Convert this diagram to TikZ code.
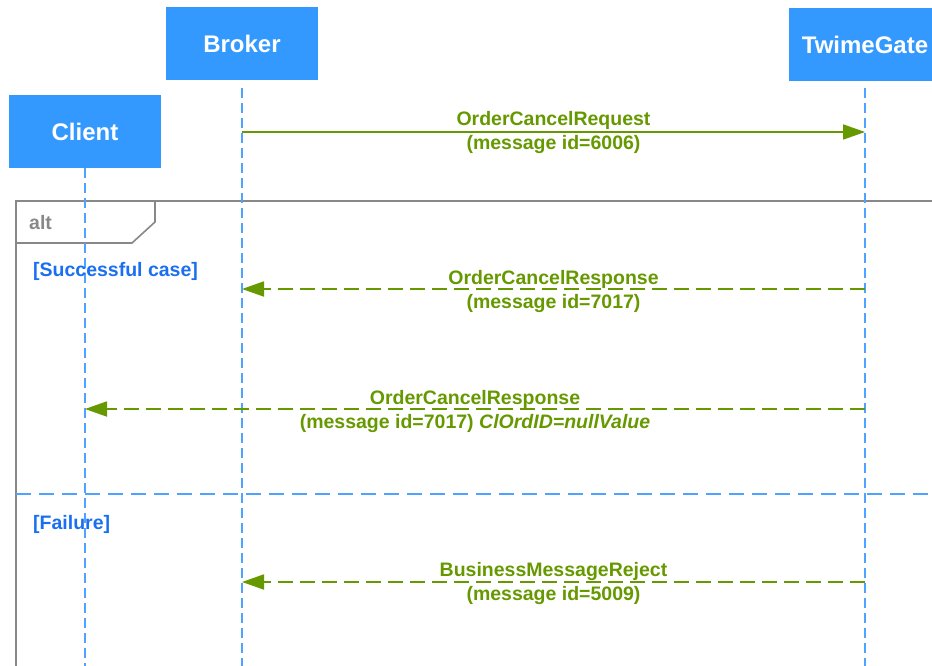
\documentclass[tikz,border=0pt]{standalone}
\usepackage{fontspec}
\setmainfont{Liberation Sans}
\usetikzlibrary{arrows.meta,calc}
\definecolor{boxblue}{HTML}{3399FF}
\definecolor{lifeblue}{HTML}{4DA3FF}
\definecolor{msggreen}{HTML}{669900}
\definecolor{guardblue}{HTML}{1A6FF0}
\definecolor{framegray}{HTML}{888888}
\begin{document}
\begin{tikzpicture}[x=1pt,y=-1pt,
  actor/.style={fill=boxblue, draw=none, minimum width=152pt, minimum height=73pt, inner sep=0pt,
    text=white, font=\fontsize{24}{28}\selectfont\bfseries},
  lifeline/.style={draw=lifeblue, line width=1.6pt, dash pattern=on 10pt off 5pt},
  msgsolid/.style={draw=msggreen, line width=1.8pt, -{Triangle[length=22pt,width=15pt]}},
  msgdash/.style={msgsolid, dash pattern=on 15pt off 7pt},
  msglabel/.style={text=msggreen, align=center, inner sep=0pt, font=\fontsize{19.5}{24}\selectfont\bfseries},
  guard/.style={text=guardblue, anchor=west, inner sep=0pt, font=\fontsize{19.5}{22}\selectfont\bfseries},
  framestyle/.style={draw=framegray, line width=1.6pt},
  separator/.style={draw=lifeblue, line width=1.8pt, dash pattern=on 15pt off 8pt}]
\useasboundingbox (0,0) rectangle (932,666);
\clip (0,0) rectangle (932,666);

% actors
\node[actor] (broker) at (242,43.5) {Broker};
\node[actor] (client) at (85,131.5) {Client};
\node[actor] (twime) at (865,44.5) {TwimeGate};

% lifeline ends
\coordinate (brokerTop) at (242,88);
\coordinate (twimeTop) at (865,88);
\coordinate (clientEnd) at (85,670);
\coordinate (brokerEnd) at (242,670);
\coordinate (twimeEnd) at (865,670);

% alt frame
\coordinate (frTR) at (940,201);
\coordinate (frTL) at (16,201);
\coordinate (frBL) at (16,670);
\draw[framestyle] (frTR) -- (frTL) -- (frBL);
\coordinate (tab1) at (16,243);
\coordinate (tab2) at (132,243);
\coordinate (tab3) at (155,222);
\coordinate (tab4) at (155,201);
\draw[framestyle] (tab1) -- (tab2) -- (tab3) -- (tab4);
\node[anchor=west, inner sep=0pt, text=framegray, font=\fontsize{19.5}{22}\selectfont\bfseries] (altlbl) at (29,223) {alt};

% separator
\coordinate (sepL) at (16,494);
\coordinate (sepR) at (940,494);
\draw[separator] (sepL) -- (sepR);

% lifelines
\draw[lifeline] (client.south) -- (clientEnd);
\draw[lifeline] (brokerTop) -- (brokerEnd);
\draw[lifeline] (twimeTop) -- (twimeEnd);

% guards
\node[guard] (g1) at (33,271) {[Successful case]};
\node[guard] (g2) at (33,524) {[Failure]};

% message 1
\coordinate (m1s) at (242,132);
\coordinate (m1e) at (865,132);
\draw[msgsolid] (m1s) -- (m1e);
\node[msglabel] (l1) at (553.5,133) {OrderCancelRequest\\(message id=6006)};

% message 2
\coordinate (m2s) at (865,289);
\coordinate (m2e) at (242,289);
\draw[msgdash] (m2s) -- (m2e);
\node[msglabel] (l2) at (553.5,291.5) {OrderCancelResponse\\(message id=7017)};

% message 3
\coordinate (m3s) at (865,409);
\coordinate (m3e) at (85,409);
\draw[msgdash] (m3s) -- (m3e);
\node[msglabel] (l3) at (475,411.5) {OrderCancelResponse\\(message id=7017) \textit{ClOrdID=nullValue}};

% message 4
\coordinate (m4s) at (865,582);
\coordinate (m4e) at (242,582);
\draw[msgdash] (m4s) -- (m4e);
\node[msglabel] (l4) at (553.5,583.5) {BusinessMessageReject\\(message id=5009)};
\end{tikzpicture}
\end{document}
